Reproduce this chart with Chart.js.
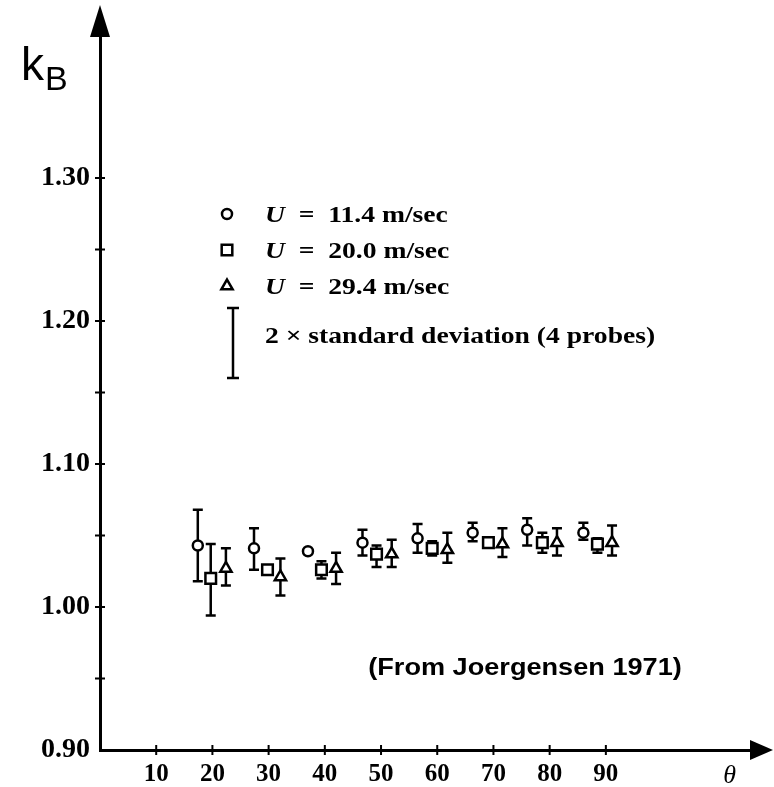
<!DOCTYPE html>
<html>
<head>
<meta charset="utf-8">
<script src="https://cdn.jsdelivr.net/npm/chart.js@4"></script>
<style>
  html, body { margin: 0; padding: 0; background: #fff; }
  #wrap { width: 774px; height: 787px; }
</style>
</head>
<body>
<div id="wrap"><canvas id="kb-chart" width="774" height="787"></canvas></div>
<script>
/* ── Données (Joergensen 1971) ── */
const circleTheta = [17.4, 27.4, 37.0, 46.7, 56.5, 66.3, 76.0, 86.0];
const circleK     = [1.043, 1.041, 1.039, 1.045, 1.048, 1.052, 1.054, 1.052];
const circleHi    = [1.068, 1.055, null, 1.054, 1.058, 1.059, 1.062, 1.059];
const circleLo    = [1.018, 1.026, null, 1.036, 1.038, 1.046, 1.043, 1.047];

const squareTheta = [19.7, 29.8, 39.4, 49.2, 59.1, 69.1, 78.7, 88.5];
const squareK     = [1.020, 1.026, 1.026, 1.037, 1.041, 1.045, 1.045, 1.044];
const squareHi    = [1.044, null, 1.032, 1.043, 1.046, null, 1.052, 1.048];
const squareLo    = [0.994, null, 1.020, 1.028, 1.036, null, 1.038, 1.038];

const triTheta = [22.4, 32.1, 42.0, 51.9, 61.8, 71.6, 81.3, 91.1];
const triK     = [1.027, 1.021, 1.027, 1.037, 1.040, 1.044, 1.045, 1.045];
const triHi    = [1.041, 1.034, 1.038, 1.047, 1.052, 1.055, 1.055, 1.057];
const triLo    = [1.015, 1.008, 1.016, 1.028, 1.031, 1.035, 1.036, 1.036];

const legendLabels = ['11.4', '20.0', '29.4'];
const xTickLabels = [10, 20, 30, 40, 50, 60, 70, 80, 90];
const yTickLabels = [0.90, 1.00, 1.10, 1.20, 1.30];

const SERIF = '"Liberation Serif", "DejaVu Serif", serif';
const SANS = '"Liberation Sans", Arial, sans-serif';

function pts(xs, ys) { return xs.map((x, i) => ({ x, y: ys[i] })); }

const series = [
  { label: 'U = 11.4 m/sec', theta: circleTheta, k: circleK, hi: circleHi, lo: circleLo, style: 'circle', r: 5 },
  { label: 'U = 20.0 m/sec', theta: squareTheta, k: squareK, hi: squareHi, lo: squareLo, style: 'rect', r: 7.5 },
  { label: 'U = 29.4 m/sec', theta: triTheta, k: triK, hi: triHi, lo: triLo, style: 'triangle', r: 6.5 },
];

// texte élargi horizontalement (la police scannée est plus large)
function wideText(ctx, text, x, y, sx) {
  ctx.save();
  ctx.translate(x, y);
  ctx.scale(sx, 1);
  ctx.fillText(text, 0, 0);
  const w = ctx.measureText(text).width * sx;
  ctx.restore();
  return w;
}

/* ── Barres d'erreur, axes fléchés, légende et annotations ── */
const decorations = {
  id: 'decorations',
  beforeDatasetsDraw(chart) {
    const { ctx, scales: { x, y } } = chart;
    ctx.save();
    ctx.strokeStyle = '#000';
    ctx.lineWidth = 2.5;
    series.forEach(s => {
      s.theta.forEach((t, i) => {
        if (s.hi[i] == null) return;
        const px = x.getPixelForValue(t);
        const yh = y.getPixelForValue(s.hi[i]);
        const yl = y.getPixelForValue(s.lo[i]);
        ctx.beginPath();
        ctx.moveTo(px, yh); ctx.lineTo(px, yl);
        ctx.moveTo(px - 5, yh); ctx.lineTo(px + 5, yh);
        ctx.moveTo(px - 5, yl); ctx.lineTo(px + 5, yl);
        ctx.stroke();
      });
    });
    ctx.restore();
  },
  afterDraw(chart) {
    const { ctx, chartArea: a, scales: { x, y } } = chart;
    ctx.save();
    ctx.fillStyle = '#000';
    ctx.strokeStyle = '#000';

    // graduations traversant les axes
    ctx.lineWidth = 2;
    ctx.beginPath();
    xTickLabels.forEach(v => {
      const px = x.getPixelForValue(v);
      ctx.moveTo(px, a.bottom - 5); ctx.lineTo(px, a.bottom + 5);
    });
    for (let v = 0.95; v <= 1.301; v += 0.05) {
      const py = y.getPixelForValue(v);
      ctx.moveTo(a.left - 5, py); ctx.lineTo(a.left + 5, py);
    }
    ctx.stroke();

    // flèches
    ctx.beginPath();
    ctx.moveTo(a.left - 10, a.top + 2);
    ctx.lineTo(a.left + 10, a.top + 2);
    ctx.lineTo(a.left, a.top - 30);
    ctx.closePath();
    ctx.fill();
    ctx.beginPath();
    ctx.moveTo(a.right - 2, a.bottom - 10);
    ctx.lineTo(a.right - 2, a.bottom + 10);
    ctx.lineTo(a.right + 21, a.bottom);
    ctx.closePath();
    ctx.fill();

    // titres d'axes
    ctx.textBaseline = 'alphabetic';
    ctx.textAlign = 'left';
    ctx.font = '46px ' + SANS;
    ctx.fillText('k', 21, 80);
    ctx.font = '34px ' + SANS;
    ctx.fillText('B', 45, 90);
    ctx.font = 'italic 26px ' + SERIF;
    ctx.textAlign = 'center';
    ctx.fillText('θ', x.getPixelForValue(112), 783);

    // légende
    ctx.textAlign = 'left';
    const markerX = 227;
    const rowY = [214, 250, 286];
    series.forEach((s, i) => {
      ctx.lineWidth = 2.5;
      ctx.fillStyle = '#fff';
      Chart.helpers.drawPoint(ctx, { pointStyle: s.style, radius: s.r, borderWidth: 2.5 }, markerX, rowY[i]);
      ctx.fillStyle = '#000';
      ctx.font = 'italic bold 24px ' + SERIF;
      const uw = wideText(ctx, 'U', 265, rowY[i] + 8, 1.15);
      ctx.font = 'bold 24px ' + SERIF;
      wideText(ctx, '  =  ' + legendLabels[i] + ' m/sec', 265 + uw, rowY[i] + 8, 1.15);
    });
    ctx.lineWidth = 2.5;
    ctx.beginPath();
    ctx.moveTo(233, 308); ctx.lineTo(233, 378);
    ctx.moveTo(227, 308); ctx.lineTo(239, 308);
    ctx.moveTo(227, 378); ctx.lineTo(239, 378);
    ctx.stroke();
    ctx.font = 'bold 24px ' + SERIF;
    wideText(ctx, '2 × standard deviation (4 probes)', 265, 343, 1.15);

    ctx.font = 'bold 24px ' + SANS;
    ctx.textAlign = 'center';
    wideText(ctx, '(From Joergensen 1971)', 525, 675, 1.13);
    ctx.restore();
  }
};

new Chart(document.getElementById('kb-chart'), {
  type: 'scatter',
  data: {
    datasets: series.map(s => ({
      label: s.label,
      data: pts(s.theta, s.k),
      pointStyle: s.style,
      pointRadius: s.r,
      pointHoverRadius: s.r,
      pointBorderWidth: 2.5,
      pointBorderColor: '#000',
      pointBackgroundColor: '#fff',
      showLine: false,
    }))
  },
  options: {
    responsive: false,
    animation: false,
    layout: { padding: { top: 35, right: 22, left: 0, bottom: 0 } },
    plugins: { legend: { display: false }, tooltip: { enabled: false } },
    scales: {
      x: {
        type: 'linear',
        min: 0, max: 116,
        grid: { display: false },
        border: { color: '#000', width: 3 },
        afterFit: s => { s.height = 37; },
        ticks: {
          stepSize: 10,
          color: '#000',
          padding: 2,
          maxRotation: 0,
          font: { family: SERIF, size: 25, weight: 'bold' },
          callback: v => xTickLabels.includes(v) ? String(v) : '',
        }
      },
      y: {
        type: 'linear',
        min: 0.9, max: 1.4,
        grid: { display: false },
        border: { color: '#000', width: 3 },
        afterFit: s => { s.width = 100; },
        ticks: {
          stepSize: 0.05,
          color: '#000',
          padding: 2,
          font: { family: SERIF, size: 28, weight: 'bold' },
          callback: v => yTickLabels.some(t => Math.abs(t - v) < 1e-6) ? v.toFixed(2) : '',
        }
      }
    }
  },
  plugins: [decorations]
});
</script>
</body>
</html>
